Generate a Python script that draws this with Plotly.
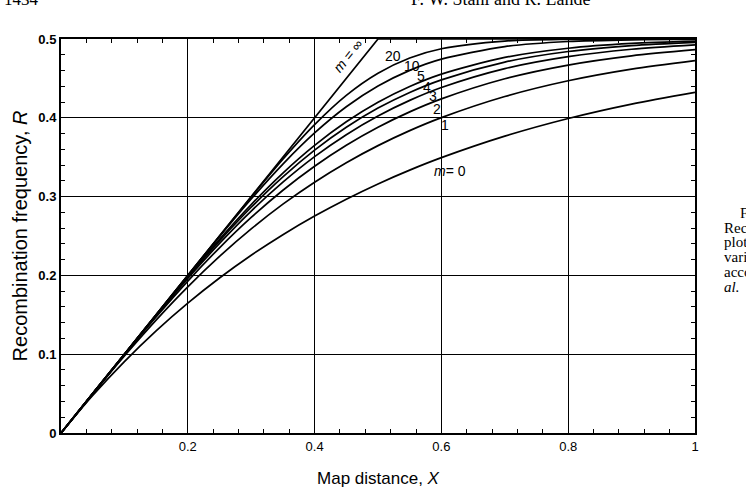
import plotly.graph_objects as go

# Map distance X (Morgans)
X = [0, 0.05, 0.1, 0.15, 0.2, 0.25, 0.3, 0.35, 0.4, 0.45, 0.5, 0.55, 0.6, 0.7, 0.8, 0.9, 1.0]

# Recombination frequency R for each interference parameter m
R_m0 = [0, 0.0476, 0.0906, 0.1296, 0.1648, 0.1967, 0.2256, 0.2517, 0.2753, 0.2967, 0.3161, 0.3336, 0.3494, 0.3767, 0.3991, 0.4174, 0.4323]
R_m1 = [0, 0.0497, 0.0978, 0.1433, 0.1855, 0.2241, 0.2590, 0.2904, 0.3183, 0.3430, 0.3647, 0.3837, 0.4002, 0.4270, 0.4470, 0.4618, 0.4725]
R_m2 = [0, 0.0500, 0.0994, 0.1473, 0.1928, 0.2350, 0.2735, 0.3081, 0.3385, 0.3651, 0.3880, 0.4075, 0.4240, 0.4495, 0.4669, 0.4786, 0.4864]
R_m3 = [0, 0.0500, 0.0998, 0.1488, 0.1961, 0.2406, 0.2816, 0.3183, 0.3507, 0.3786, 0.4023, 0.4221, 0.4384, 0.4624, 0.4776, 0.4870, 0.4926]
R_m4 = [0, 0.0500, 0.0999, 0.1494, 0.1978, 0.2438, 0.2865, 0.3251, 0.3590, 0.3880, 0.4123, 0.4322, 0.4482, 0.4707, 0.4841, 0.4916, 0.4957]
R_m5 = [0, 0.0500, 0.1000, 0.1497, 0.1987, 0.2458, 0.2899, 0.3299, 0.3650, 0.3949, 0.4197, 0.4397, 0.4554, 0.4766, 0.4883, 0.4944, 0.4974]
R_m10 = [0, 0.0500, 0.1000, 0.1500, 0.1999, 0.2492, 0.2969, 0.3413, 0.3808, 0.4140, 0.4403, 0.4602, 0.4744, 0.4904, 0.4968, 0.4990, 0.4997]
R_m20 = [0, 0.0500, 0.1000, 0.1500, 0.2000, 0.2500, 0.2995, 0.3475, 0.3914, 0.4285, 0.4566, 0.4759, 0.4876, 0.4974, 0.4996, 0.4999, 0.5000]
X_inf = [0, 0.5, 1.0]
R_inf = [0, 0.5, 0.5]

# Curve labels: text, x, y
label_text = ["20", "10", "5", "4", "3", "2", "1", "<i>m</i>= 0"]
label_x = [0.524, 0.553, 0.568, 0.578, 0.586, 0.5925, 0.6056, 0.6135]
label_y = [0.4788, 0.4661, 0.4525, 0.439, 0.428, 0.4114, 0.391, 0.333]

x_tickvals = [0.2, 0.4, 0.6, 0.8, 1.0]
x_ticktext = ["0.2", "0.4", "0.6", "0.8", "1"]
y_tickvals = [0, 0.1, 0.2, 0.3, 0.4, 0.5]
y_ticktext = ["0", "0.1", "0.2", "0.3", "0.4", "0.5"]

fig = go.Figure()
for ys in [R_m0, R_m1, R_m2, R_m3, R_m4, R_m5, R_m10, R_m20]:
    fig.add_trace(go.Scatter(x=X, y=ys, mode="lines",
                             line=dict(color="black", width=1.7, shape="spline", smoothing=0.8),
                             showlegend=False, hoverinfo="skip"))
fig.add_trace(go.Scatter(x=X_inf, y=R_inf, mode="lines",
                         line=dict(color="black", width=1.7),
                         showlegend=False, hoverinfo="skip"))

sans = "Liberation Sans, Arial, Helvetica, sans-serif"
serif = "Liberation Serif, Times New Roman, serif"

ann = []
for t, xx, yy in zip(label_text, label_x, label_y):
    ann.append(dict(x=xx, y=yy, xref="x", yref="y", text=t, showarrow=False,
                    font=dict(family=sans, size=14, color="black")))
ann.append(dict(x=0.452, y=0.479, xref="x", yref="y", text="<i>m</i> = ∞", showarrow=False,
                textangle=-51, font=dict(family=sans, size=14, color="black")))

# Page text around the figure (cropped scan), placed in pixels
page_text = ["1434", "F. W. Stahl and R. Lande", "FIGURE", "Recombination", "plotted", "various", "according", "<i>al.</i>"]
page_px = [2, 501, 738, 722, 722, 722, 722, 722]
page_py = [0, -1, 213, 228, 242, 257, 272, 287]
page_anchor = ["left", "center", "left", "left", "left", "left", "left", "left"]
page_size = [17, 18, 15, 15, 15, 15, 15, 15]

L, T, W, H = 61, 39, 634, 394
for t, px, py, xa, sz in zip(page_text, page_px, page_py, page_anchor, page_size):
    ann.append(dict(x=(px - L) / W, y=1 - (py - T) / H, xref="paper", yref="paper",
                    text=t, showarrow=False, xanchor=xa, yanchor="middle",
                    font=dict(family=serif, size=sz, color="black")))

fig.update_layout(
    width=746, height=492,
    margin=dict(l=61, r=51, t=39, b=59, autoexpand=False),
    paper_bgcolor="white", plot_bgcolor="white",
    annotations=ann,
    font=dict(family=sans, color="black"),
)
fig.update_xaxes(
    range=[0, 1], tickmode="array", tickvals=x_tickvals, ticktext=x_ticktext,
    showgrid=True, gridcolor="black", gridwidth=1,
    showline=True, linecolor="black", linewidth=2, mirror="ticks",
    ticks="inside", ticklen=5, tickcolor="black",
    tickfont=dict(family=sans, size=13, color="black"),
    zeroline=False, automargin=False,
    minor=dict(tickmode="linear", tick0=0, dtick=0.04, ticks="inside", ticklen=4,
               tickcolor="black", showgrid=False),
    title=dict(text="Map distance, <i>X</i>", font=dict(family=sans, size=17, color="black"), standoff=20),
)
fig.update_yaxes(
    range=[0, 0.5], tickmode="array", tickvals=y_tickvals, ticktext=y_ticktext,
    showgrid=True, gridcolor="black", gridwidth=1,
    showline=True, linecolor="black", linewidth=2, mirror="ticks",
    ticks="inside", ticklen=5, tickcolor="black",
    tickfont=dict(family=sans, size=13, color="black", weight="bold"),
    zeroline=False, automargin=False,
    minor=dict(tickmode="linear", tick0=0, dtick=0.02, ticks="inside", ticklen=4,
               tickcolor="black", showgrid=False),
    title=dict(text="Recombination frequency, <i>R</i>", font=dict(family=sans, size=20, color="black"), standoff=5),
)
fig.write_html("out.html")
